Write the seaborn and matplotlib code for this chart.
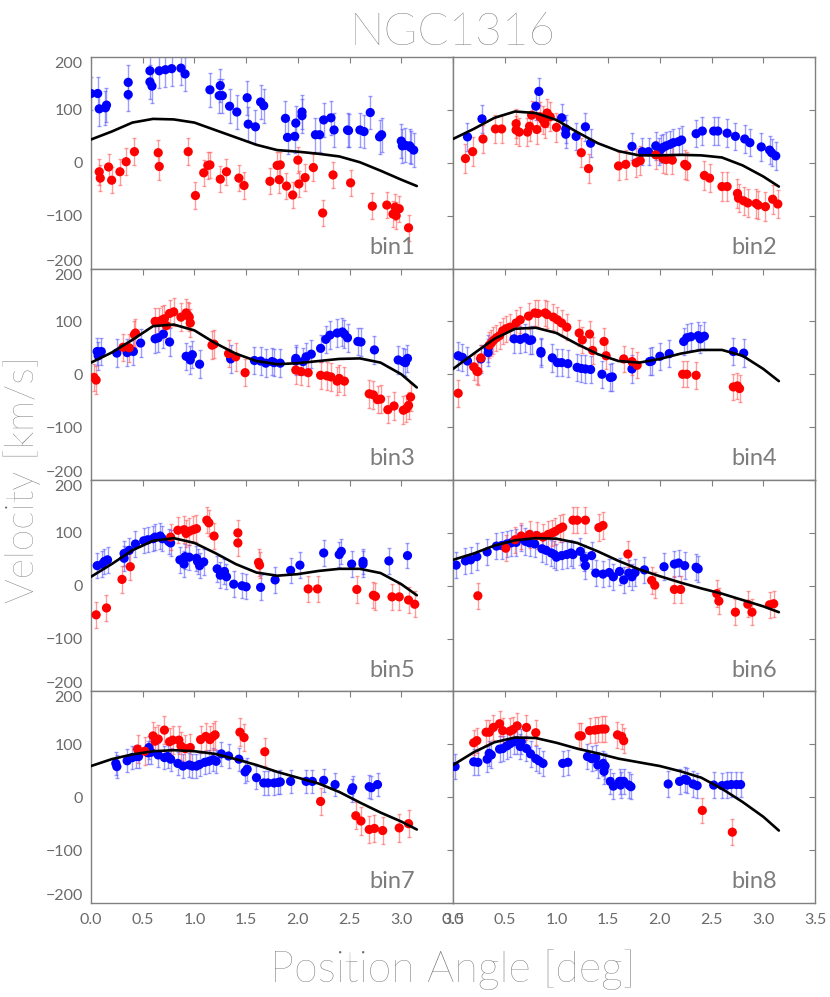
import numpy as np
import pandas as pd
import matplotlib
matplotlib.use("Agg")
import matplotlib.pyplot as plt
import seaborn as sns

sns.set_style("white")
plt.rcParams['font.family'] = ['Lato', 'DejaVu Sans']

# ---------------- data ----------------
titles = ["bin1", "bin2", "bin3", "bin4", "bin5", "bin6", "bin7", "bin8"]
xticks = [0.0, 0.5, 1.0, 1.5, 2.0, 2.5, 3.0, 3.5]
yticks = [-200, -100, 0, 100, 200]

curve_x = [0.0, 0.2, 0.4, 0.6, 0.8, 1.0, 1.2, 1.4, 1.6, 1.8, 2.0, 2.2, 2.4, 2.6, 2.8, 3.0, 3.15]
c1 = [44, 59, 76, 83, 82, 76, 62, 48, 34, 24, 21, 17, 12, 1, -15, -32, -44]
c2 = [45, 64, 85, 97, 94, 81, 58, 37, 22, 14, 14, 15, 14, 10, -5, -26, -45]
c3 = [22, 41, 65, 91, 94, 83, 59, 39, 25, 19, 21, 25, 29, 30, 22, 0, -25]
c4 = [10, 39, 67, 86, 88, 78, 57, 38, 25, 22, 29, 39, 46, 46, 35, 10, -13]
c5 = [17, 41, 67, 85, 90, 81, 62, 41, 25, 19, 22, 28, 32, 32, 24, 3, -18]
c6 = [49, 61, 76, 86, 90, 89, 81, 65, 47, 31, 18, 6, -5, -15, -27, -39, -50]
c7 = [59, 72, 81, 87, 89, 87, 82, 72, 61, 48, 37, 26, 10, -10, -29, -46, -61]
c8 = [61, 85, 104, 113, 112, 103, 92, 83, 73, 66, 59, 49, 37, 16, -9, -37, -63]

b1_x = [0.00, 0.065, 0.08, 0.14, 0.15, 0.36, 0.36, 0.57, 0.57, 0.59, 0.66, 0.72, 0.78, 0.87, 0.91,
        1.15, 1.25, 1.24, 1.27, 1.34, 1.41, 1.51, 1.52, 1.59, 1.64, 1.67, 1.88, 1.90, 1.97, 1.98,
        2.04, 2.04, 2.17, 2.21, 2.25, 2.32, 2.35, 2.48, 2.49, 2.60, 2.64, 2.70, 2.79, 2.81, 3.00,
        3.01, 3.04, 3.08, 3.09, 3.12]
b1_v = [131, 131, 102, 104, 109, 129, 152, 174, 153, 145, 174, 176, 178, 179, 168,
        138, 146, 127, 127, 107, 96, 123, 73, 68, 115, 108, 84, 48, 50, 75,
        96, 89, 53, 53, 81, 85, 62, 62, 61, 62, 59, 95, 49, 53, 41,
        32, 33, 32, 29, 24]
r1_x = [0.08, 0.09, 0.17, 0.20, 0.28, 0.34, 0.42, 0.65, 0.66, 0.94, 1.01, 1.09, 1.13, 1.15, 1.25,
        1.31, 1.43, 1.48, 1.73, 1.80, 1.83, 1.82, 1.89, 1.95, 2.00, 2.01, 2.07, 2.15, 2.24, 2.34,
        2.51, 2.72, 2.86, 2.92, 2.94, 2.95, 2.98, 3.07]
r1_v = [-17, -29, -8, -33, -17, 2, 21, 19, -7, 21, -62, -19, -5, -4, -31,
        -17, -29, -43, -35, -5, -4, -32, -44, -61, 5, -40, -28, -9, -95, -23,
        -38, -82, -80, -97, -84, -100, -87, -123]

b2_x = [0.14, 0.28, 0.80, 0.83, 1.05, 1.09, 1.09, 1.19, 1.28, 1.33, 1.73, 1.83, 1.89, 1.96, 1.99,
        2.01, 2.03, 2.06, 2.10, 2.13, 2.18, 2.21, 2.35, 2.41, 2.52, 2.56, 2.65, 2.73, 2.82, 2.87,
        2.98, 3.06, 3.08, 3.12]
b2_v = [49, 83, 107, 135, 85, 64, 54, 50, 68, 37, 31, 21, 21, 32, 21,
        26, 29, 32, 35, 38, 40, 43, 55, 60, 60, 60, 56, 50, 45, 38,
        30, 24, 19, 13]
r2_x = [0.12, 0.19, 0.29, 0.41, 0.47, 0.61, 0.61, 0.64, 0.72, 0.74, 0.76, 0.81, 0.84, 0.87, 0.89,
        0.91, 0.94, 1.00, 1.24, 1.31, 1.60, 1.67, 1.77, 1.81, 1.96, 2.03, 2.06, 2.12, 2.24, 2.26,
        2.43, 2.48, 2.60, 2.65, 2.75, 2.76, 2.81, 2.85, 2.93, 2.95, 3.02, 3.09, 3.14]
r2_v = [8, 21, 45, 64, 64, 74, 62, 58, 58, 69, 90, 63, 87, 81, 74,
        94, 87, 67, 19, -11, -6, -3, 0, 4, 15, 8, 6, 5, -3, -6,
        -24, -29, -45, -45, -58, -67, -72, -76, -77, -80, -83, -69, -78]

b3_x = [0.06, 0.07, 0.10, 0.25, 0.35, 0.41, 0.48, 0.62, 0.65, 0.70, 0.76, 0.92, 0.96, 0.98, 1.05,
        1.35, 1.58, 1.64, 1.69, 1.75, 1.77, 1.83, 1.98, 1.98, 2.05, 2.08, 2.13, 2.22, 2.27, 2.31,
        2.38, 2.43, 2.45, 2.48, 2.58, 2.61, 2.74, 2.97, 3.02, 3.04, 3.06]
b3_v = [43, 35, 43, 40, 41, 43, 59, 67, 69, 76, 61, 34, 27, 37, 19,
        29, 26, 25, 21, 24, 22, 21, 25, 30, 24, 33, 38, 49, 66, 74,
        78, 80, 76, 69, 62, 61, 46, 27, 24, 22, 30]
r3_x = [0.03, 0.05, 0.31, 0.37, 0.42, 0.43, 0.62, 0.66, 0.69, 0.71, 0.73, 0.76, 0.80, 0.87, 0.92,
        0.94, 0.95, 0.96, 1.17, 1.19, 1.33, 1.40, 1.49, 1.98, 2.03, 2.10, 2.22, 2.28, 2.32, 2.38,
        2.40, 2.45, 2.69, 2.73, 2.77, 2.80, 2.87, 2.93, 3.02, 3.05, 3.07, 3.09]
r3_v = [-6, -11, 51, 50, 75, 78, 100, 100, 103, 105, 92, 115, 118, 108, 116,
        111, 108, 97, 55, 57, 39, 33, 3, 8, 5, 3, -2, -3, -5, -13,
        -8, -13, -37, -39, -48, -47, -67, -60, -68, -65, -59, -43]

b4_x = [0.05, 0.09, 0.14, 0.27, 0.34, 0.34, 0.59, 0.65, 0.70, 0.74, 0.76, 0.85, 0.85, 0.96, 1.01,
        1.05, 1.11, 1.20, 1.24, 1.28, 1.33, 1.44, 1.52, 1.54, 1.73, 1.90, 1.92, 2.00, 2.09, 2.23,
        2.26, 2.30, 2.37, 2.39, 2.43, 2.71, 2.81]
b4_v = [35, 32, 25, 29, 49, 41, 67, 66, 69, 64, 65, 43, 40, 31, 22,
        22, 20, 13, 11, 10, 9, 0, -6, -5, 10, 24, 25, 34, 39, 62,
        69, 71, 73, 67, 72, 43, 40]
r4_x = [0.05, 0.20, 0.23, 0.24, 0.27, 0.35, 0.37, 0.39, 0.42, 0.45, 0.48, 0.51, 0.55, 0.61, 0.65,
        0.73, 0.79, 0.82, 0.89, 0.91, 0.97, 1.01, 1.05, 1.10, 1.22, 1.25, 1.32, 1.35, 1.46, 1.48,
        1.65, 1.73, 1.78, 2.22, 2.26, 2.35, 2.71, 2.75, 2.77]
r4_v = [-36, 14, 6, 5, 31, 55, 59, 64, 69, 73, 82, 86, 89, 97, 103,
        110, 116, 115, 116, 113, 108, 103, 97, 89, 78, 65, 76, 45, 62, 35,
        29, 24, 17, 0, 0, -2, -24, -22, -27]

b5_x = [0.06, 0.11, 0.13, 0.16, 0.32, 0.32, 0.37, 0.43, 0.51, 0.55, 0.60, 0.62, 0.67, 0.69, 0.75,
        0.77, 0.86, 0.90, 0.91, 0.95, 1.02, 1.03, 1.05, 1.09, 1.22, 1.25, 1.29, 1.31, 1.38, 1.46,
        1.50, 1.64, 1.78, 1.93, 2.02, 2.25, 2.40, 2.42, 2.52, 2.63, 2.63, 2.88, 3.06]
b5_v = [38, 41, 46, 49, 52, 61, 67, 79, 85, 87, 89, 92, 94, 89, 84,
        81, 49, 41, 55, 54, 52, 46, 38, 45, 32, 20, 27, 17, 3, 0,
        -2, -3, 11, 29, 39, 62, 59, 65, 41, 46, 41, 47, 57]
r5_x = [0.05, 0.15, 0.30, 0.38, 0.77, 0.84, 0.90, 0.92, 0.95, 0.99, 1.02, 1.12, 1.14, 1.19, 1.42,
        1.42, 1.62, 1.63, 2.10, 2.19, 2.57, 2.73, 2.75, 2.91, 2.98, 3.07, 3.13]
r5_v = [-55, -42, 12, 36, 92, 105, 106, 99, 103, 106, 108, 124, 119, 94, 100,
        81, 44, 39, -6, -6, -7, -18, -20, -21, -21, -27, -35]

b6_x = [0.03, 0.12, 0.17, 0.23, 0.33, 0.42, 0.47, 0.52, 0.56, 0.61, 0.66, 0.70, 0.74, 0.79, 0.86,
        0.90, 0.95, 0.98, 1.00, 1.05, 1.10, 1.14, 1.16, 1.23, 1.27, 1.28, 1.34, 1.38, 1.45, 1.51,
        1.55, 1.61, 1.65, 1.70, 1.73, 1.76, 1.85, 2.04, 2.14, 2.18, 2.24, 2.35, 2.37]
b6_v = [39, 47, 49, 55, 64, 75, 76, 79, 81, 82, 90, 84, 81, 79, 70,
        67, 62, 59, 54, 57, 59, 62, 59, 65, 52, 38, 57, 24, 22, 25,
        17, 27, 11, 24, 17, 25, 30, 36, 41, 43, 38, 35, 32]
r6_x = [0.24, 0.51, 0.60, 0.66, 0.74, 0.81, 0.87, 0.92, 0.96, 0.99, 1.03, 1.06, 1.16, 1.20, 1.28,
        1.41, 1.45, 1.69, 1.92, 1.95, 2.14, 2.20, 2.55, 2.57, 2.73, 2.85, 2.89, 3.06, 3.10]
r6_v = [-19, 71, 87, 94, 97, 95, 92, 97, 100, 103, 108, 111, 124, 124, 124,
        110, 114, 60, 10, 1, -7, -7, -15, -29, -50, -35, -50, -36, -34]

b7_x = [0.24, 0.25, 0.35, 0.40, 0.44, 0.46, 0.55, 0.56, 0.58, 0.65, 0.71, 0.74, 0.77, 0.84, 0.89,
        0.95, 0.98, 1.02, 1.05, 1.10, 1.14, 1.18, 1.21, 1.26, 1.33, 1.43, 1.49, 1.51, 1.60, 1.67,
        1.71, 1.77, 1.81, 1.83, 1.93, 2.08, 2.14, 2.25, 2.36, 2.52, 2.53, 2.69, 2.71, 2.77]
b7_v = [64, 58, 69, 75, 77, 77, 84, 94, 85, 80, 75, 77, 72, 64, 59,
        61, 59, 59, 62, 66, 68, 71, 68, 82, 78, 72, 48, 53, 37, 27,
        27, 27, 28, 29, 30, 30, 30, 32, 24, 13, 18, 20, 18, 24]
r7_x = [0.45, 0.52, 0.60, 0.62, 0.65, 0.71, 0.76, 0.79, 0.85, 0.87, 0.91, 0.96, 1.06, 1.11, 1.15,
        1.18, 1.20, 1.44, 1.48, 1.68, 2.22, 2.56, 2.61, 2.69, 2.74, 2.82, 2.98, 3.07]
r7_v = [91, 87, 116, 106, 110, 127, 105, 108, 108, 97, 92, 94, 109, 115, 109,
        115, 118, 123, 113, 86, -8, -35, -45, -61, -59, -63, -58, -50]

b8_x = [0.02, 0.20, 0.24, 0.33, 0.35, 0.37, 0.45, 0.48, 0.52, 0.55, 0.59, 0.62, 0.65, 0.66, 0.71,
        0.75, 0.80, 0.83, 0.87, 1.06, 1.11, 1.30, 1.34, 1.38, 1.40, 1.45, 1.46, 1.47, 1.52, 1.55,
        1.61, 1.62, 1.65, 1.70, 1.72, 2.08, 2.19, 2.24, 2.26, 2.32, 2.36, 2.52, 2.60, 2.65, 2.69,
        2.74, 2.78]
b8_v = [58, 67, 66, 72, 83, 80, 91, 92, 97, 101, 105, 106, 96, 105, 92,
        82, 73, 69, 64, 64, 66, 77, 73, 75, 61, 64, 49, 59, 30, 21,
        30, 23, 30, 23, 20, 25, 30, 34, 32, 25, 22, 23, 22, 23, 24,
        24, 24]
r8_x = [0.20, 0.23, 0.32, 0.35, 0.39, 0.45, 0.48, 0.55, 0.58, 0.62, 0.71, 0.80, 1.22, 1.24, 1.32,
        1.37, 1.40, 1.44, 1.47, 1.59, 1.63, 1.65, 2.41, 2.70]
r8_v = [103, 107, 123, 123, 132, 139, 126, 125, 128, 135, 132, 122, 116, 116, 126,
        127, 128, 129, 129, 118, 115, 107, -25, -66]

blue_err = [32, 26, 26, 26, 24, 25, 22, 24]
red_err = [25, 27, 26, 25, 25, 25, 26, 24]

blue_x = [b1_x, b2_x, b3_x, b4_x, b5_x, b6_x, b7_x, b8_x]
blue_v = [b1_v, b2_v, b3_v, b4_v, b5_v, b6_v, b7_v, b8_v]
red_x = [r1_x, r2_x, r3_x, r4_x, r5_x, r6_x, r7_x, r8_x]
red_v = [r1_v, r2_v, r3_v, r4_v, r5_v, r6_v, r7_v, r8_v]
curves = [c1, c2, c3, c4, c5, c6, c7, c8]

# ---------------- figure ----------------
GRAY = "#808080"
TXT = "#6a6a6a"
fig, axes = plt.subplots(4, 2, figsize=(8.30, 9.97), dpi=100)
fig.subplots_adjust(left=0.1096, right=0.982, top=0.9428, bottom=0.0943,
                    hspace=0, wspace=0)

for i, ax in enumerate(axes.flat):
    row, col = divmod(i, 2)
    bx, bv = np.array(blue_x[i]), np.array(blue_v[i])
    rx, rv = np.array(red_x[i]), np.array(red_v[i])
    ax.errorbar(bx, bv, yerr=blue_err[i], fmt='none', ecolor=(0.3, 0.3, 1.0, 0.55),
                elinewidth=1.0, capsize=1.6, capthick=1.0, zorder=1)
    ax.errorbar(rx, rv, yerr=red_err[i], fmt='none', ecolor=(1.0, 0.3, 0.3, 0.55),
                elinewidth=1.0, capsize=1.6, capthick=1.0, zorder=1)
    sns.scatterplot(x=bx, y=bv, ax=ax, color=(0, 0, 1), s=44, edgecolor='none',
                    linewidth=0, zorder=3)
    sns.scatterplot(x=rx, y=rv, ax=ax, color=(1, 0, 0), s=44, edgecolor='none',
                    linewidth=0, zorder=3)
    df = pd.DataFrame({"x": curve_x, "v": curves[i]})
    sns.lineplot(data=df, x="x", y="v", ax=ax, color='black', lw=1.9,
                 sort=False, estimator=None, zorder=4)

    ax.set_xlim(0, 3.5)
    ax.set_ylim(-200, 200)
    ax.set_xticks(xticks)
    ax.set_yticks(yticks)
    ax.set_xlabel("")
    ax.set_ylabel("")
    for sp in ax.spines.values():
        sp.set_color(GRAY)
        sp.set_linewidth(1.0)
    ax.tick_params(direction='in', length=4.5, width=0.8, color=GRAY,
                   top=True, right=True, labelcolor=TXT, labelsize=11.5)
    ax.tick_params(axis='y', pad=6)
    ax.tick_params(axis='x', pad=7)
    if row < 3:
        ax.set_xticklabels([])
    else:
        ax.set_xticklabels([f"{t:.1f}" for t in xticks])
    if col == 1:
        ax.set_yticklabels([])
    else:
        ax.set_yticklabels([str(t) if t >= 0 else "\u2212" + str(-t) for t in yticks])
        labs = ax.get_yticklabels()
        labs[0].set_verticalalignment('bottom')
        labs[-1].set_verticalalignment('top')
    ax.text(0.895, 0.07, titles[i], transform=ax.transAxes, ha='right',
            va='baseline', fontsize=17, color="#7c7c7c", fontweight='normal')

fig.text(0.545, 0.967, "NGC1316", ha='center', va='center', fontsize=33,
         color=TXT, fontweight='light')
fig.text(0.545, 0.027, "Position Angle [deg]", ha='center', va='center',
         fontsize=31, color=TXT, fontweight='light')
fig.text(0.027, 0.519, "Velocity [km/s]", ha='center', va='center',
         rotation=90, fontsize=28, color=TXT, fontweight='light')

fig.savefig("out.png", dpi=100)
